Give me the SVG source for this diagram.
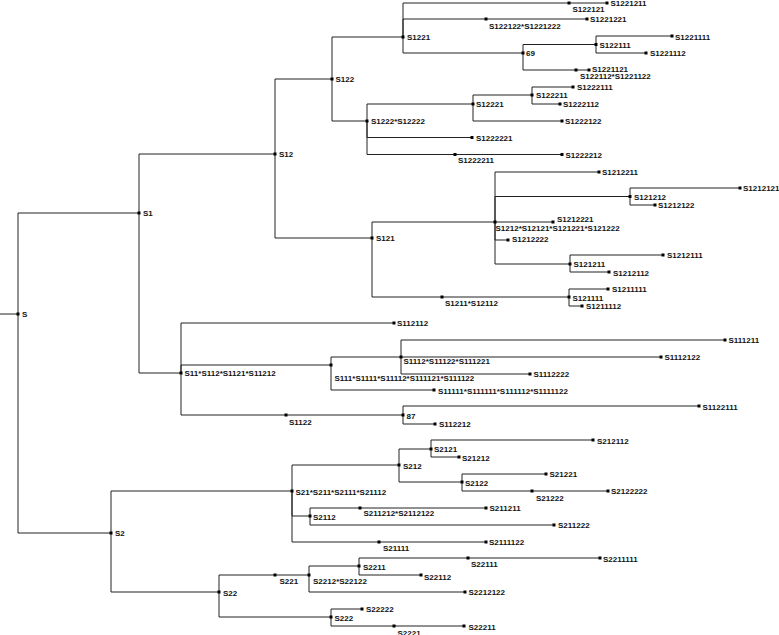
<svg xmlns="http://www.w3.org/2000/svg" xmlns:xlink="http://www.w3.org/1999/xlink" width="779" height="635" viewBox="0 0 779 635">
<style>
.e{stroke:#222;stroke-width:1;fill:none}
text{font-family:"Liberation Sans",Arial,sans-serif;font-size:8px;font-weight:bold;fill:#111}
</style>
<defs><rect id="m" x="-1.5" y="-1.5" width="3" height="3" fill="#000"/></defs>
<rect width="779" height="635" fill="#fff"/>
<g id="connectors" class="e">
<path d="M0 314H18"/>
<path d="M18 314V213H139"/><path d="M18 314V533H111"/>
<path d="M139 213V154H275"/><path d="M139 213V373H181"/>
<path d="M275 154V79H332"/><path d="M275 154V238H372"/>
<path d="M332 79V37H403"/><path d="M332 79V121H367"/>
<path d="M403 37V3H569H607"/>
<path d="M403 37V19H486H587"/>
<path d="M403 37V53H523"/>
<path d="M523 53V44.5H596"/><path d="M596 44.5V36H672"/><path d="M596 44.5V53H646"/>
<path d="M523 53V70H576H589"/>
<path d="M367 121V104H473"/>
<path d="M473 104V95H532"/><path d="M532 95V87H573"/><path d="M532 95V104H560"/>
<path d="M473 104V121H562"/>
<path d="M367 121V137.5H472"/>
<path d="M367 121V154.5H455H562"/>
<path d="M372 238V222H495H553"/>
<path d="M495 222V172H599"/>
<path d="M495 222V196.5H630"/><path d="M630 196.5V188H740"/><path d="M630 196.5V205H655"/>
<path d="M495 222V240H508"/>
<path d="M495 222V264H570"/><path d="M570 264V255H663"/><path d="M570 264V272H609"/>
<path d="M372 238V297H442H569"/>
<path d="M569 297V289H608"/><path d="M569 297V306H582"/>
<path d="M181 373V323H394"/>
<path d="M181 373V365H331"/>
<path d="M331 365V357H401"/>
<path d="M401 357V340H725"/><path d="M401 357H661"/><path d="M401 357V374H530"/>
<path d="M331 365V390H434"/>
<path d="M181 373V415H286H403"/>
<path d="M403 415V406H699"/><path d="M403 415V424H435"/>
<path d="M111 533V491H292"/><path d="M111 533V592H219"/>
<path d="M292 491V465H399"/>
<path d="M399 465V449H431"/><path d="M431 449V440H593"/><path d="M431 449V457H459"/>
<path d="M399 465V482H462"/><path d="M462 482V474H546"/><path d="M462 482V491H532H608"/>
<path d="M292 491V516H310"/>
<path d="M310 516V508H360H486"/><path d="M310 516V525H554"/>
<path d="M292 491V542H379H486"/>
<path d="M219 592V575H275H309"/>
<path d="M309 575V566H359"/>
<path d="M359 566V558H468H600"/><path d="M359 566V575H421"/>
<path d="M309 575V592H465"/>
<path d="M219 592V617H331"/>
<path d="M331 617V609H362"/><path d="M331 617V626H394H464"/>
</g>
<g id="n-S"><use xlink:href="#m" x="18" y="314"/><text x="22" y="317">S</text></g>
<g id="n-S1"><use xlink:href="#m" x="139" y="213"/><text x="143" y="216">S1</text></g>
<g id="n-S12"><use xlink:href="#m" x="275" y="154"/><text x="279" y="157">S12</text></g>
<g id="n-S121"><use xlink:href="#m" x="372" y="238"/><text x="376" y="241">S121</text></g>
<g id="n-S122"><use xlink:href="#m" x="332" y="79"/><text x="335.5" y="82">S122</text></g>
<g id="n-S1221"><use xlink:href="#m" x="403" y="37"/><text x="407" y="39.5">S1221</text></g>
<g id="n-S1222"><use xlink:href="#m" x="367" y="121"/><text x="371" y="123.5">S1222*S12222</text></g>
<g id="n-S122121"><use xlink:href="#m" x="569" y="3"/><text x="572.5" y="12">S122121</text></g>
<g id="n-S1221211"><use xlink:href="#m" x="607" y="3"/><text x="610.5" y="6">S1221211</text></g>
<g id="n-S122122"><use xlink:href="#m" x="486" y="19"/><text x="489" y="28.5">S122122*S1221222</text></g>
<g id="n-S1221221"><use xlink:href="#m" x="587" y="19"/><text x="590" y="22">S1221221</text></g>
<g id="n-69"><use xlink:href="#m" x="523" y="53"/><text x="526" y="56">69</text></g>
<g id="n-S122111"><use xlink:href="#m" x="596" y="44.5"/><text x="599.5" y="47.5">S122111</text></g>
<g id="n-S1221111"><use xlink:href="#m" x="672" y="36"/><text x="675" y="39.5">S1221111</text></g>
<g id="n-S1221112"><use xlink:href="#m" x="646" y="53"/><text x="650" y="56">S1221112</text></g>
<g id="n-S122112"><use xlink:href="#m" x="576" y="70"/><text x="580" y="78.5">S122112*S1221122</text></g>
<g id="n-S1221121"><use xlink:href="#m" x="589" y="70"/><text x="592" y="72">S1221121</text></g>
<g id="n-S12221"><use xlink:href="#m" x="473" y="104"/><text x="476" y="107">S12221</text></g>
<g id="n-S122211"><use xlink:href="#m" x="532" y="95"/><text x="536" y="98">S122211</text></g>
<g id="n-S1222111"><use xlink:href="#m" x="573" y="87"/><text x="577" y="90">S1222111</text></g>
<g id="n-S1222112"><use xlink:href="#m" x="560" y="104"/><text x="563" y="107">S1222112</text></g>
<g id="n-S1222122"><use xlink:href="#m" x="562" y="121"/><text x="565" y="124">S1222122</text></g>
<g id="n-S1222221"><use xlink:href="#m" x="472" y="137.5"/><text x="476" y="140.5">S1222221</text></g>
<g id="n-S1222211"><use xlink:href="#m" x="455" y="154.5"/><text x="458" y="163">S1222211</text></g>
<g id="n-S1222212"><use xlink:href="#m" x="562" y="154.5"/><text x="565.5" y="157.5">S1222212</text></g>
<g id="n-S1212"><use xlink:href="#m" x="495" y="222"/><text x="495.5" y="230.5">S1212*S12121*S121221*S121222</text></g>
<g id="n-S1212211"><use xlink:href="#m" x="599" y="172"/><text x="602" y="174.5">S1212211</text></g>
<g id="n-S121212"><use xlink:href="#m" x="630" y="196.5"/><text x="634" y="200">S121212</text></g>
<g id="n-S1212121"><use xlink:href="#m" x="740" y="188"/><text x="743" y="190.5">S1212121</text></g>
<g id="n-S1212122"><use xlink:href="#m" x="655" y="205"/><text x="658" y="208">S1212122</text></g>
<g id="n-S1212221"><use xlink:href="#m" x="553" y="222"/><text x="557" y="222">S1212221</text></g>
<g id="n-S1212222"><use xlink:href="#m" x="508" y="240"/><text x="512" y="242">S1212222</text></g>
<g id="n-S121211"><use xlink:href="#m" x="570" y="264"/><text x="573.5" y="267">S121211</text></g>
<g id="n-S1212111"><use xlink:href="#m" x="663" y="255"/><text x="667" y="258">S1212111</text></g>
<g id="n-S1212112"><use xlink:href="#m" x="609" y="272"/><text x="613" y="275.5">S1212112</text></g>
<g id="n-S1211"><use xlink:href="#m" x="442" y="297"/><text x="445" y="306">S1211*S12112</text></g>
<g id="n-S121111"><use xlink:href="#m" x="569" y="297"/><text x="572.5" y="300.5">S121111</text></g>
<g id="n-S1211111"><use xlink:href="#m" x="608" y="289"/><text x="612" y="292">S1211111</text></g>
<g id="n-S1211112"><use xlink:href="#m" x="582" y="306"/><text x="586" y="309">S1211112</text></g>
<g id="n-S11"><use xlink:href="#m" x="181" y="373"/><text x="184.5" y="376">S11*S112*S1121*S11212</text></g>
<g id="n-S112112"><use xlink:href="#m" x="394" y="323"/><text x="397" y="326">S112112</text></g>
<g id="n-S111"><use xlink:href="#m" x="331" y="365"/><text x="334.5" y="381">S111*S1111*S11112*S111121*S111122</text></g>
<g id="n-S1112"><use xlink:href="#m" x="401" y="357"/><text x="403.5" y="363.5">S1112*S11122*S111221</text></g>
<g id="n-S111211"><use xlink:href="#m" x="725" y="340"/><text x="728.5" y="343">S111211</text></g>
<g id="n-S1112122"><use xlink:href="#m" x="661" y="357"/><text x="664.5" y="359.5">S1112122</text></g>
<g id="n-S1112222"><use xlink:href="#m" x="530" y="374"/><text x="533.5" y="377">S1112222</text></g>
<g id="n-S11111"><use xlink:href="#m" x="434" y="390"/><text x="438" y="393.5">S11111*S111111*S111112*S1111122</text></g>
<g id="n-S1122"><use xlink:href="#m" x="286" y="415"/><text x="289" y="424.5">S1122</text></g>
<g id="n-87"><use xlink:href="#m" x="403" y="415"/><text x="406.5" y="418.5">87</text></g>
<g id="n-S1122111"><use xlink:href="#m" x="699" y="406"/><text x="702.5" y="409.5">S1122111</text></g>
<g id="n-S112212"><use xlink:href="#m" x="435" y="424"/><text x="439" y="427">S112212</text></g>
<g id="n-S2"><use xlink:href="#m" x="111" y="533"/><text x="115" y="536">S2</text></g>
<g id="n-S21"><use xlink:href="#m" x="292" y="491"/><text x="295.5" y="494.5">S21*S211*S2111*S21112</text></g>
<g id="n-S212"><use xlink:href="#m" x="399" y="465"/><text x="403" y="468.5">S212</text></g>
<g id="n-S2121"><use xlink:href="#m" x="431" y="449"/><text x="434" y="452">S2121</text></g>
<g id="n-S212112"><use xlink:href="#m" x="593" y="440"/><text x="597" y="444">S212112</text></g>
<g id="n-S21212"><use xlink:href="#m" x="459" y="457"/><text x="462" y="461">S21212</text></g>
<g id="n-S2122"><use xlink:href="#m" x="462" y="482"/><text x="465" y="486">S2122</text></g>
<g id="n-S21221"><use xlink:href="#m" x="546" y="474"/><text x="549.5" y="477">S21221</text></g>
<g id="n-S21222"><use xlink:href="#m" x="532" y="491"/><text x="536" y="500.5">S21222</text></g>
<g id="n-S2122222"><use xlink:href="#m" x="608" y="491"/><text x="611" y="494">S2122222</text></g>
<g id="n-S2112"><use xlink:href="#m" x="310" y="516"/><text x="313" y="520">S2112</text></g>
<g id="n-S211212"><use xlink:href="#m" x="360" y="508"/><text x="363.5" y="516">S211212*S2112122</text></g>
<g id="n-S211211"><use xlink:href="#m" x="486" y="508"/><text x="489.5" y="511">S211211</text></g>
<g id="n-S211222"><use xlink:href="#m" x="554" y="525"/><text x="558" y="528">S211222</text></g>
<g id="n-S21111"><use xlink:href="#m" x="379" y="542"/><text x="383" y="551">S21111</text></g>
<g id="n-S2111122"><use xlink:href="#m" x="486" y="542"/><text x="489" y="545">S2111122</text></g>
<g id="n-S22"><use xlink:href="#m" x="219" y="592"/><text x="223" y="595.5">S22</text></g>
<g id="n-S221"><use xlink:href="#m" x="275" y="575"/><text x="279.5" y="584">S221</text></g>
<g id="n-S2212"><use xlink:href="#m" x="309" y="575"/><text x="313" y="584">S2212*S22122</text></g>
<g id="n-S2211"><use xlink:href="#m" x="359" y="566"/><text x="363" y="570">S2211</text></g>
<g id="n-S22111"><use xlink:href="#m" x="468" y="558"/><text x="471" y="567">S22111</text></g>
<g id="n-S2211111"><use xlink:href="#m" x="600" y="558"/><text x="603" y="561.5">S2211111</text></g>
<g id="n-S22112"><use xlink:href="#m" x="421" y="575"/><text x="424" y="579.5">S22112</text></g>
<g id="n-S2212122"><use xlink:href="#m" x="465" y="592"/><text x="468.5" y="595">S2212122</text></g>
<g id="n-S222"><use xlink:href="#m" x="331" y="617"/><text x="334.5" y="621">S222</text></g>
<g id="n-S22222"><use xlink:href="#m" x="362" y="609"/><text x="366" y="612">S22222</text></g>
<g id="n-S2221"><use xlink:href="#m" x="394" y="626"/><text x="397.5" y="635.5">S2221</text></g>
<g id="n-S22211"><use xlink:href="#m" x="464" y="626"/><text x="468.5" y="629.5">S22211</text></g>
</svg>
